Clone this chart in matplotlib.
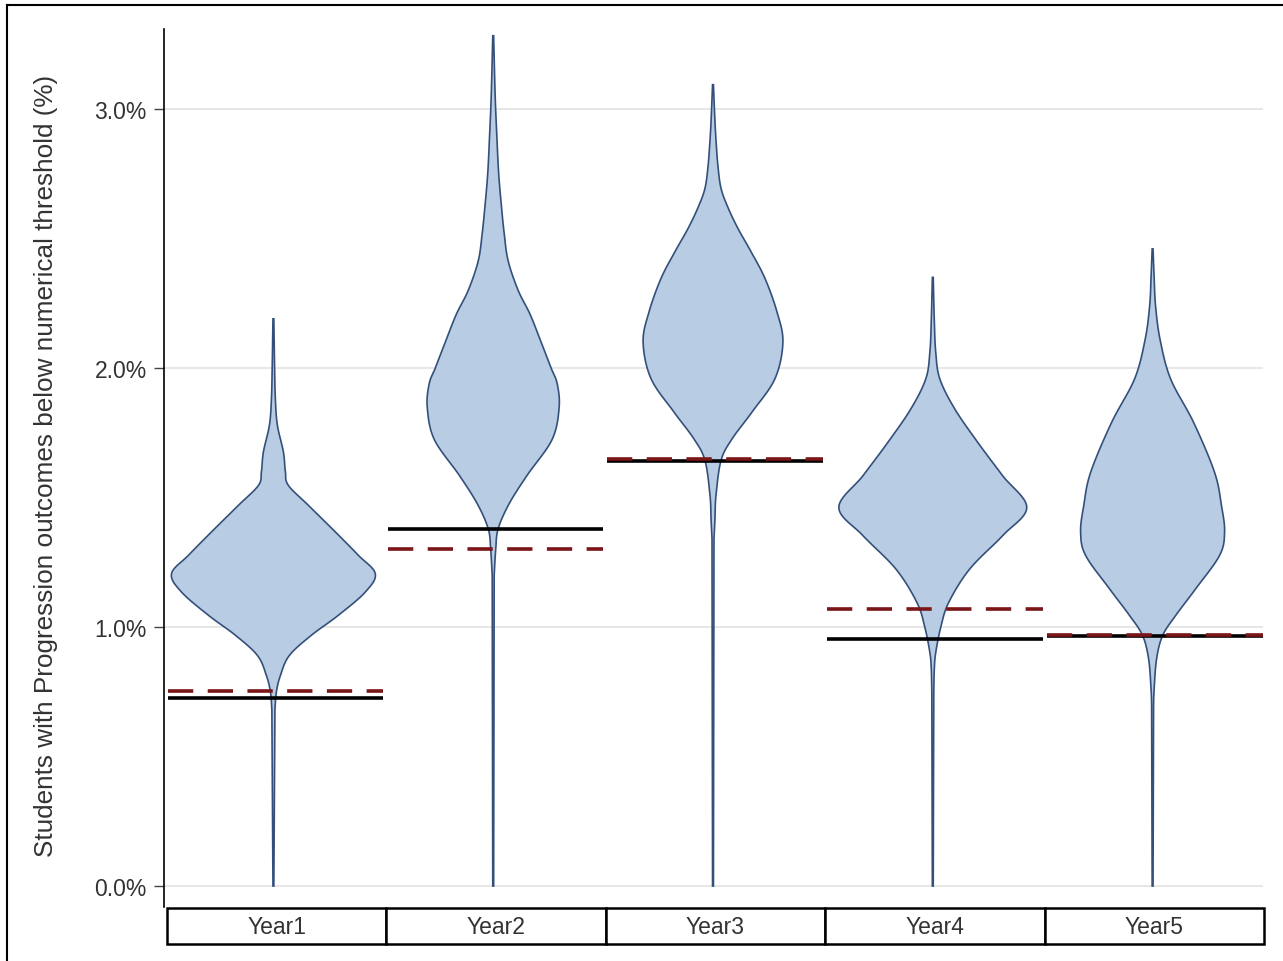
import numpy as np
import matplotlib
matplotlib.use("Agg")
import matplotlib.pyplot as plt
from matplotlib.patches import Rectangle
from matplotlib.lines import Line2D

plt.rcParams['font.family'] = ['Liberation Sans', 'DejaVu Sans']

years = ['Year1', 'Year2', 'Year3', 'Year4', 'Year5']

# violin outlines: value (%) and relative density
year1_vals = [0.0, 0.68, 0.749, 0.813, 0.89, 0.968, 1.045, 1.135, 1.206, 1.277, 1.367, 1.47, 1.547, 1.60, 1.676, 1.78, 1.88, 2.0, 2.19]
year1_dens = [0.004, 0.014, 0.027, 0.064, 0.145, 0.345, 0.59, 0.836, 0.927, 0.773, 0.564, 0.318, 0.136, 0.109, 0.091, 0.036, 0.018, 0.011, 0.004]

year2_vals = [0.0, 1.2, 1.30, 1.379, 1.476, 1.586, 1.724, 1.848, 1.94, 2.0, 2.1, 2.207, 2.30, 2.414, 2.52, 2.62, 2.75, 2.897, 3.05, 3.283]
year2_dens = [0.004, 0.009, 0.023, 0.045, 0.145, 0.309, 0.536, 0.6, 0.582, 0.527, 0.436, 0.336, 0.227, 0.136, 0.1, 0.076, 0.05, 0.033, 0.018, 0.004]

year3_vals = [0.0, 1.34, 1.42, 1.507, 1.643, 1.726, 1.83, 1.959, 2.10, 2.217, 2.346, 2.45, 2.539, 2.62, 2.694, 2.78, 2.862, 2.95, 3.094]
year3_dens = [0.004, 0.009, 0.018, 0.027, 0.073, 0.173, 0.355, 0.564, 0.636, 0.582, 0.473, 0.345, 0.227, 0.136, 0.073, 0.045, 0.03, 0.018, 0.004]

year4_vals = [0.0, 0.75, 0.84, 0.902, 1.0, 1.095, 1.224, 1.353, 1.462, 1.584, 1.713, 1.842, 1.958, 2.06, 2.18, 2.35]
year4_dens = [0.004, 0.009, 0.014, 0.027, 0.073, 0.145, 0.336, 0.636, 0.855, 0.636, 0.409, 0.2, 0.064, 0.027, 0.014, 0.004]

year5_vals = [0.0, 0.70, 0.76, 0.876, 0.967, 1.044, 1.147, 1.276, 1.366, 1.468, 1.597, 1.79, 1.958, 2.11, 2.24, 2.35, 2.46]
year5_dens = [0.004, 0.009, 0.014, 0.036, 0.091, 0.209, 0.391, 0.609, 0.655, 0.627, 0.564, 0.373, 0.164, 0.068, 0.027, 0.014, 0.004]

# reference lines per year (%)
solid_line = [0.726, 1.378, 1.641, 0.954, 0.965]
dashed_line = [0.753, 1.301, 1.649, 1.069, 0.969]

yticks = [0.0, 1.0, 2.0, 3.0]

violins = [(year1_vals, year1_dens), (year2_vals, year2_dens), (year3_vals, year3_dens),
           (year4_vals, year4_dens), (year5_vals, year5_dens)]


def smooth_outline(vals, dens, n=16):
    # catmull-rom through the read points (the long stem segment stays straight)
    pts = np.column_stack([vals[1:], dens[1:]])
    P = np.vstack([pts[0], pts, pts[-1]])
    t = np.linspace(0, 1, n, endpoint=False)[:, None]
    out = [np.array([[vals[0], dens[0]]])]
    for k in range(1, len(P) - 2):
        p0, p1, p2, p3 = P[k - 1], P[k], P[k + 1], P[k + 2]
        out.append(0.5 * (2 * p1 + (-p0 + p2) * t + (2 * p0 - 5 * p1 + 4 * p2 - p3) * t ** 2
                          + (-p0 + 3 * p1 - 3 * p2 + p3) * t ** 3))
    out.append(P[-2][None])
    out = np.vstack(out)
    return out[:, 0], np.clip(out[:, 1], 0.003, None)


W, H = 1283, 962
fig = plt.figure(figsize=(W / 100, H / 100), dpi=100)

left, right = 163.5 / W, 1262.5 / W
top, bottom = 1 - 30 / H, 1 - 908 / H
ax = fig.add_axes([left, bottom, right - left, top - bottom])
ax.set_xlim(-0.5, 4.5)
ax.set_ylim(-0.081, 3.309)

for y in yticks:
    ax.axhline(y, color='#e3e3e3', lw=1.2, zorder=0)

for i, (vals, dens) in enumerate(violins):
    v, d = smooth_outline(vals, dens)
    d = d * 0.5
    xs = np.concatenate([i + d, (i - d)[::-1]])
    ys = np.concatenate([v, v[::-1]])
    ax.fill(xs, ys, facecolor='#b8cce4', edgecolor='#34507a', lw=1.2, zorder=2)

for i in range(len(years)):
    ax.hlines(solid_line[i], i - 0.48, i + 0.5, color='black', lw=2.6, zorder=3)
    ax.hlines(dashed_line[i], i - 0.48, i + 0.5, color='#7a1518', lw=2.6,
              linestyles=(0, (7, 4)), zorder=4)

ax.set_yticks(yticks)
ax.set_yticklabels([f'{t:.1f}%' for t in yticks], fontsize=16.5, color='#333333')
ax.tick_params(axis='y', length=7, width=1, color='#444444', pad=5)
ax.set_xticks([])
for s in ['top', 'right', 'bottom']:
    ax.spines[s].set_visible(False)
ax.spines['left'].set_linewidth(1.2)
ax.set_ylabel('Students with Progression outcomes below numerical threshold (%)',
              fontsize=18.8, color='#333333')
ax.yaxis.set_label_coords((58 - 163.5) / (1262.5 - 163.5), (908 - 466) / 878)

# category table below the plot
tab = fig.add_axes([167 / W, 1 - 945 / H, (1264 - 167) / W, 36 / H])
tab.set_xlim(-0.5, 4.5)
tab.set_ylim(0, 1)
tab.axis('off')
for i, name in enumerate(years):
    tab.add_patch(Rectangle((i - 0.5, 0), 1, 1, facecolor='white', edgecolor='black',
                            lw=1.8, clip_on=False))
    tab.text(i, 0.48, name, ha='center', va='center', fontsize=16.5, color='#333333')

# outer frame (top and left edges visible)
fig.add_artist(Line2D([7 / W, 7 / W], [0, 1 - 6 / H], color='black', lw=1.5))
fig.add_artist(Line2D([7 / W, 1], [1 - 6 / H, 1 - 6 / H], color='black', lw=1.5))

fig.savefig('out.png', dpi=100)
